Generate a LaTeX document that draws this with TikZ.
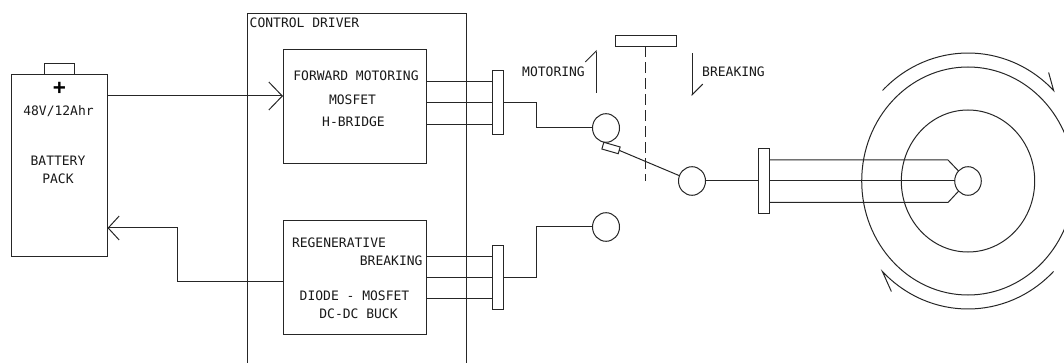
\documentclass[tikz,border=0pt]{standalone}
\usepackage{fontspec}
\setmonofont{DejaVu Sans Mono}
\usetikzlibrary{positioning, shapes.geometric, arrows.meta}

\tikzset{
	line/.style={draw=black!85, line width=1pt},
	box/.style={line, rectangle, inner sep=0pt, outer sep=0pt},
	ring/.style={line, ellipse, inner sep=0pt, outer sep=0pt},
	lbl/.style={inner sep=0pt, outer sep=0pt, text=black!90, font=\ttfamily\fontsize{13}{15}\selectfont},
	openhead/.style={-{Straight Barb[length=13.5pt, width=28pt]}},
	sidehead/.style={-{Straight Barb[harpoon, length=#1]}},
}

\begin{document}
\begin{tikzpicture}[x=1pt, y=-1pt]
	\useasboundingbox (0,0) rectangle (1064,363);
	
	\node[box, minimum width=96.5pt, minimum height=181pt] (bat) at (59.25,165.5) {};
	\node[box, minimum width=30.5pt, minimum height=11pt, above=0pt of bat] (cap) {};
	\node[box, minimum width=219pt, minimum height=386pt] (ctl) at (356.5,207) {};
	\node[box, minimum width=143.5pt, minimum height=114pt] (fwd) at (354.75,107) {};
	\node[box, minimum width=143.5pt, minimum height=114pt, below=56.5pt of fwd] (reg) {};
	
	\node[box, minimum width=10.5pt, minimum height=64pt] (t1) at (498,103) {};
	\node[box, minimum width=10.5pt, minimum height=64pt] (t2) at (498,277) {};
	\node[box, minimum width=11pt, minimum height=64.5pt] (t3) at (763.5,181) {};
	\node[box, minimum width=60.5pt, minimum height=11pt] (lever) at (645.75,41) {};
	\node[box, minimum width=17pt, minimum height=7pt, rotate=-16] (tip) at (611,148) {};
	
	\node[ring, minimum width=27pt, minimum height=28.6pt] (s1) at (606,128) {};
	\node[ring, minimum width=27pt, minimum height=28.6pt] (s2) at (606,227) {};
	\node[ring, minimum width=27pt, minimum height=28.6pt] (s3) at (692,181) {};
	\node[ring, minimum width=26.6pt, minimum height=28.6pt] (hub) at (968,181) {};
	\node[ring, minimum width=133.4pt, minimum height=142pt] (inner) at (968,181) {};
	\node[ring, minimum width=212.6pt, minimum height=228pt] (outer) at (968,181) {};
	
	\node[lbl] (n1) at (304.5,23) {CONTROL DRIVER};
	\node[lbl] (n2) at (58.5,111) {48V/12Ahr};
	\node[lbl] (n3) at (58,161) {BATTERY};
	\node[lbl, below=8pt of n3] (n4) {PACK};
	\node[lbl, text=black, font=\ttfamily\bfseries\fontsize{21}{21}\selectfont] (plus) at (59.5,88) {+};
	\node[lbl] (n5) at (356,76) {FORWARD MOTORING};
	\node[lbl] (n6) at (352.5,100) {MOSFET};
	\node[lbl] (n7) at (353.5,122) {H-BRIDGE};
	\node[lbl, anchor=west] (n8) at (292,243) {REGENERATIVE};
	\node[lbl, anchor=east] (n9) at (422.5,261) {BREAKING};
	\node[lbl] (n10) at (354.5,296) {DIODE - MOSFET};
	\node[lbl] (n11) at (358.5,314) {DC-DC BUCK};
	\node[lbl] (n12) at (553.5,72) {MOTORING};
	\node[lbl] (n13) at (733.5,72) {BREAKING};
	
	\coordinate (c1) at (177,228);
	\coordinate (c2) at (536,128);
	\coordinate (c3) at (536,227);
	\coordinate (c4) at (948,160);
	\coordinate (c5) at (948,202.5);
	\coordinate (d1) at (645.75,181.5);
	\coordinate (u1) at (596,93);
	\coordinate (u2) at (596,50);
	\coordinate (v1) at (692,53.5);
	\coordinate (v2) at (692,96);
	
	\draw[line, openhead] (bat.east |- 0,96) -- (fwd.west |- 0,96);
	\draw[line, -{Straight Barb[length=11pt, width=24pt]}] (reg.west |- 0,281) -- (c1 |- 0,281) -- (c1) -- (bat.east |- c1);
	
	\foreach \w in {82,103,124.5} {
		\draw[line] (fwd.east |- 0,\w) -- (t1.west |- 0,\w);
	}
	\foreach \w in {256.5,277.5,298.5} {
		\draw[line] (reg.east |- 0,\w) -- (t2.west |- 0,\w);
	}
	
	\draw[line] (t1.east) -- (c2 |- t1.east) -- (c2) -- (s1);
	\draw[line] (t2.east) -- (c3 |- t2.east) -- (c3) -- (s2);
	\draw[line] (s3) -- (t3);
	\draw[line] (s3) -- (tip.east);
	\draw[line, dashed, dash pattern=on 11pt off 5pt] (lever) ++(0,5.5) -- (d1);
	
	\draw[line, sidehead=10.7pt] (u1) -- (u2);
	\draw[line, sidehead=10.7pt] (v1) -- (v2);
	
	\draw[line] (t3.east |- c4) -- (c4) -- (hub);
	\draw[line] (t3.east) -- (hub);
	\draw[line] (t3.east |- c5) -- (c5) -- (hub);
	
	\draw[line] (882.5,90.5) arc[start angle=135, end angle=45, x radius=121pt, y radius=128pt] -- ++(-5,-18);
	\draw[line] (1053.5,271.5) arc[start angle=-45, end angle=-135, x radius=121pt, y radius=128pt] -- ++(9,20);
\end{tikzpicture}
\end{document}
